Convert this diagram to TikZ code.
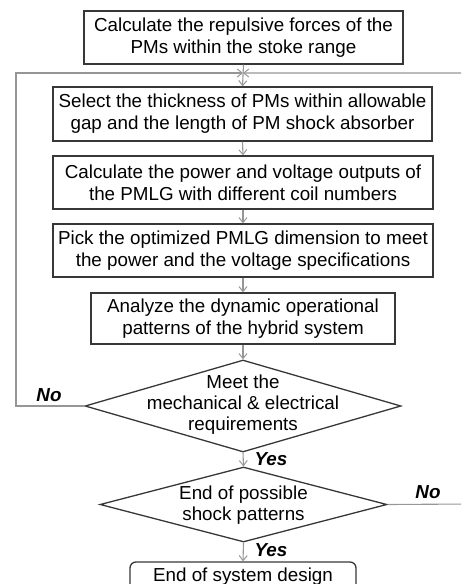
\documentclass[tikz,border=0pt]{standalone}
\usepackage{fontspec}
\setmainfont{Liberation Sans}
\usetikzlibrary{shapes.geometric,arrows.meta}
\definecolor{linegray}{RGB}{150,150,150}
\definecolor{boxedge}{RGB}{55,55,55}
\begin{document}
\begin{tikzpicture}[x=1pt,y=-1pt,
  every node/.style={font=\fontsize{18.8}{22}\selectfont},
  stepbox/.style={draw=boxedge,line width=1.3pt,inner sep=0pt,align=center,minimum height=53pt},
  endbox/.style={draw=boxedge,line width=1.3pt,rounded corners=6pt,inner sep=0pt,align=center,minimum height=30pt},
  decision/.style={diamond,draw=boxedge,line width=1.3pt,inner sep=0pt},
  dtext/.style={align=center,inner sep=0pt,font=\fontsize{18.8}{21}\selectfont},
  flow/.style={draw=linegray,line width=1.1pt,-{Straight Barb[length=5pt,width=8pt,line width=1pt]}},
  tag/.style={font=\fontsize{18.8}{22}\selectfont\bfseries\itshape,inner sep=0pt}]
\clip (0,0) rectangle (461,584);

% process steps
\node[stepbox,minimum width=319pt] (b1) at (243.5,37.5)
  {Calculate the repulsive forces of the\\PMs within the stoke range};
\node[stepbox,minimum width=379pt,minimum height=54pt] (b2) at (242.5,114)
  {Select the thickness of PMs within allowable\\gap and the length of PM shock absorber};
\node[stepbox,minimum width=380pt] (b3) at (243,182.5)
  {Calculate the power and voltage outputs of\\the PMLG with different coil numbers};
\node[stepbox,minimum width=380pt] (b4) at (243,250.5)
  {Pick the optimized PMLG dimension to meet\\the power and the voltage specifications};
\node[stepbox,minimum width=304pt,minimum height=51pt] (b5) at (243,318.5)
  {Analyze the dynamic operational\\patterns of the hybrid system};

% decisions
\node[decision,minimum width=316pt,minimum height=92pt] (d1) at (243,406) {};
\node[dtext] (t1) at (243,405) {Meet the\\mechanical \& electrical\\requirements};
\node[decision,minimum width=287pt,minimum height=75pt] (d2) at (243.5,504.5) {};
\node[dtext] (t2) at (243.5,505) {End of possible\\shock patterns};

% final step
\node[endbox,minimum width=226pt] (e) at (243,577) {\raisebox{5pt}{End of system design}};

% junction of the two feedback loops
\coordinate (j) at (243,73);
\coordinate (lc1) at (16,406);
\coordinate (lc2) at (16,73);
\coordinate (rc1) at (470,504);
\coordinate (rc2) at (470,73);

% main flow
\draw[flow] (b1.south) -- (b2.north);
\draw[flow] (b2.south) -- (b3.north);
\draw[flow] (b3.south) -- (b4.north);
\draw[flow] (b4.south) -- (b5.north);
\draw[flow] (b5.south) -- (d1.north);
\draw[flow] (d1.south) -- (d2.north);
\draw[flow] (d2.south) -- (e.north);

% feedback loops
\draw[flow] (d1.west) -- (lc1) -- (lc2) -- (j);
\draw[flow] (d2.east) -- (rc1) -- (rc2) -- (j);

% branch labels
\node[tag] (no1) at (49,395) {No};
\node[tag] (yes1) at (271,459) {Yes};
\node[tag] (no2) at (428,492) {No};
\node[tag] (yes2) at (271,550) {Yes};
\end{tikzpicture}
\end{document}
